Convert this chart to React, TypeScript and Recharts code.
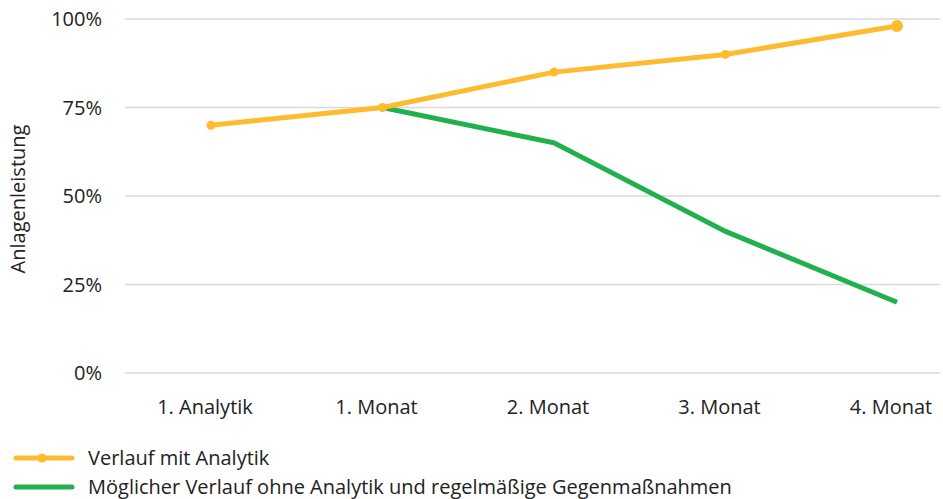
import { LineChart, Line, XAxis, YAxis, CartesianGrid } from "recharts";

const categories = ["1. Analytik", "1. Monat", "2. Monat", "3. Monat", "4. Monat"];
const withAnalytics = [70, 75, 85, 90, 98];
const withoutAnalytics: (number | null)[] = [null, 75, 65, 40, 20];
const yTicks = [0, 25, 50, 75, 100];

const seriesNames = {
  with: "Verlauf mit Analytik",
  without: "Möglicher Verlauf ohne Analytik und regelmäßige Gegenmaßnahmen",
};
const yTitle = "Anlagenleistung";

const YELLOW = "#FDBB2F";
const GREEN = "#22B04E";
const TEXT = "#222222";
const FONT = "'Open Sans', sans-serif";
const FS = 20;

const data = categories.map((name, i) => ({
  name,
  with: withAnalytics[i],
  without: withoutAnalytics[i],
}));

function YellowDot(props: any) {
  const { cx, cy, index } = props;
  if (cx == null || cy == null) return null;
  const r = index === data.length - 1 ? 6 : 4.5;
  return <circle key={index} cx={cx} cy={cy} r={r} fill={YELLOW} />;
}

function YTitle(props: any) {
  const vb = props.viewBox || {};
  const cx = 17;
  const cy = (vb.y ?? 0) + (vb.height ?? 0) / 2 + 3;
  return (
    <text
      x={cx}
      y={cy}
      transform={`rotate(-90 ${cx} ${cy})`}
      textAnchor="middle"
      dominantBaseline="central"
      fill={TEXT}
      fontSize={FS}
      fontFamily={FONT}
    >
      {yTitle}
    </text>
  );
}

function LegendRow({ color, label, dot, h }: { color: string; label: string; dot?: boolean; h: number }) {
  return (
    <div style={{ display: "flex", alignItems: "center", height: h, lineHeight: "20px" }}>
      <svg width={80} height={14}>
        <line x1={16} y1={7} x2={72} y2={7} stroke={color} strokeWidth={5} strokeLinecap="round" />
        {dot && <circle cx={42} cy={7} r={4.5} fill={color} />}
      </svg>
      <span style={{ marginLeft: 8, fontSize: FS, color: TEXT }}>{label}</span>
    </div>
  );
}

export default function App() {
  return (
    <div style={{ position: "relative", width: 943, height: 499, fontFamily: FONT }}>
      <style>{`body{margin:0}`}</style>
      <LineChart
        width={943}
        height={440}
        data={data}
        margin={{ top: 19, right: 3, bottom: 17, left: 0 }}
      >
        <CartesianGrid vertical={false} stroke="#d9d9d9" strokeWidth={1.5} />
        <XAxis
          dataKey="name"
          axisLine={false}
          tickLine={false}
          height={50}
          tickMargin={21}
          padding={{ left: 86, right: 43 }}
          tick={{ fill: TEXT, fontSize: FS, fontFamily: FONT, dx: -6 }}
        />
        <YAxis
          width={125}
          domain={[0, 100]}
          ticks={yTicks}
          axisLine={false}
          tickLine={false}
          tickMargin={17}
          tickFormatter={(v) => `${v}%`}
          tick={{ fill: TEXT, fontSize: FS, fontFamily: FONT }}
          label={<YTitle />}
        />
        <Line
          dataKey="without"
          stroke={GREEN}
          strokeWidth={5}
          dot={false}
          activeDot={false}
          connectNulls={false}
          isAnimationActive={false}
        />
        <Line
          dataKey="with"
          stroke={YELLOW}
          strokeWidth={5}
          dot={<YellowDot />}
          activeDot={false}
          isAnimationActive={false}
        />
      </LineChart>
      <div style={{ position: "absolute", left: 0, top: 442 }}>
        <LegendRow color={YELLOW} label={seriesNames.with} dot h={31} />
        <LegendRow color={GREEN} label={seriesNames.without} h={27} />
      </div>
    </div>
  );
}
